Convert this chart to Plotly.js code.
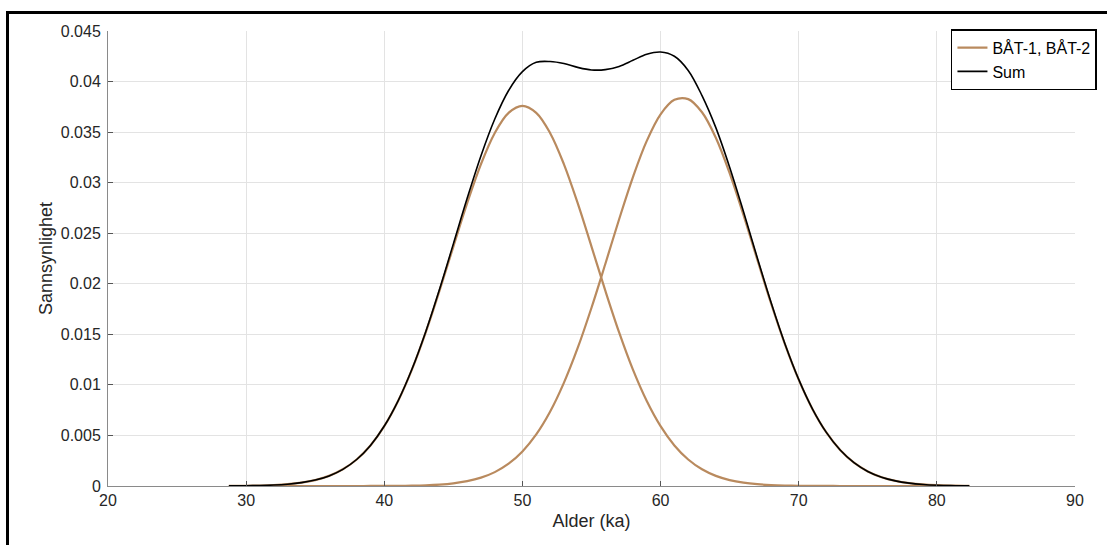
<!DOCTYPE html>
<html>
<head>
<meta charset="utf-8">
<script src="https://cdn.plot.ly/plotly-3.0.1.min.js"></script>
<style>
  html, body { margin: 0; padding: 0; background: #fff; overflow: hidden; }
  #chart { position: absolute; left: 0; top: 0; width: 1107px; height: 545px; }
  #frame { position: absolute; left: 6px; top: 11px; width: 1300px; height: 800px;
           border: 3px solid #000; pointer-events: none; }
</style>
</head>
<body>
<div id="chart"></div>
<div id="frame"></div>
<script>
// Age (ka)
const ages = [28.75, 29, 30, 31, 32, 33, 34, 35, 36, 37, 38, 39, 40, 41, 42, 43, 44, 45, 46, 47, 48, 49,
  50, 51, 52, 53, 54, 55, 56, 57, 58, 59, 60, 61, 62, 63, 64, 65, 66, 67, 68, 69, 70, 71, 72, 73, 74,
  75, 76, 77, 78, 79, 80, 81, 82, 82.35];

// BÅT-1 probability
const bat1 = [0.0000085, 0.0000108, 0.0000231, 0.0000474, 0.000094, 0.00018, 0.000331, 0.000587, 0.001,
  0.00165, 0.00262, 0.00401, 0.00592, 0.00841, 0.01151, 0.01519, 0.01932, 0.02368, 0.02797, 0.03184,
  0.03492, 0.03691, 0.0376, 0.03691, 0.03492, 0.03184, 0.02797, 0.02368, 0.01932, 0.01519, 0.01151,
  0.00841, 0.00592, 0.00401, 0.00262, 0.00165, 0.001, 0.000587, 0.000331, 0.00018, 0.000094, 0.0000474,
  0.0000231, 0.0000108, 0.000005, 0.000002, 0, 0, 0, 0, 0, 0, 0, 0, 0, 0];

// BÅT-2 probability
const bat2 = [0, 0, 0, 0, 0, 0, 0, 0, 0, 0, 0, 0.0000038, 0.0000085, 0.0000181, 0.0000374, 0.0000747,
  0.000144, 0.000267, 0.000478, 0.000825, 0.001374, 0.002205, 0.003415, 0.0051, 0.00734, 0.0102,
  0.01365, 0.01763, 0.02196, 0.02638, 0.03055, 0.03413, 0.03676, 0.03819, 0.03826, 0.03696, 0.03444,
  0.03094, 0.02681, 0.0224, 0.01805, 0.01403, 0.01052, 0.0076, 0.0053, 0.00356, 0.002307, 0.001442,
  0.000869, 0.000506, 0.000283, 0.000153, 0.00008, 0.00004, 0.0000195, 0.000015];

// Sum probability
const total = [0.0000085, 0.0000108, 0.0000231, 0.0000474, 0.000094, 0.00018, 0.000331, 0.000587, 0.001,
  0.00165, 0.00262, 0.004014, 0.005929, 0.008428, 0.011547, 0.015265, 0.019464, 0.023947, 0.028448,
  0.032665, 0.036294, 0.039115, 0.04098, 0.0419, 0.04198, 0.04178, 0.0414, 0.04115, 0.04118, 0.0415,
  0.0421, 0.0427, 0.04292, 0.0425, 0.0411, 0.03861, 0.03544, 0.031527, 0.027141, 0.02258, 0.018144,
  0.014077, 0.010543, 0.007611, 0.0053, 0.00356, 0.002307, 0.001442, 0.000869, 0.000506, 0.000283,
  0.000153, 0.00008, 0.00004, 0.0000195, 0.000015];

const xTicks = [20, 30, 40, 50, 60, 70, 80, 90];
const xTickText = ['20', '30', '40', '50', '60', '70', '80', '90'];
const yTicks = [0, 0.005, 0.01, 0.015, 0.02, 0.025, 0.03, 0.035, 0.04, 0.045];
const yTickText = ['0', '0.005', '0.01', '0.015', '0.02', '0.025', '0.03', '0.035', '0.04', '0.045'];

const seriesNames = ['BÅT-1, BÅT-2', 'Sum'];
const brown = '#B98A5E';
const fontFam = 'Liberation Sans, Arial, sans-serif';

const traces = [
  { x: ages, y: bat1, type: 'scatter', mode: 'lines', name: seriesNames[0], legendgroup: 'bat',
    line: { color: brown, width: 2.2, shape: 'spline', smoothing: 1 } },
  { x: ages, y: bat2, type: 'scatter', mode: 'lines', name: seriesNames[0], legendgroup: 'bat',
    showlegend: false, line: { color: brown, width: 2.2, shape: 'spline', smoothing: 1 } },
  { x: ages, y: total, type: 'scatter', mode: 'lines', name: seriesNames[1],
    line: { color: '#000000', width: 1.6, shape: 'spline', smoothing: 1 } }
];

const layout = {
  width: 1107, height: 545,
  margin: { l: 108, r: 32, t: 31, b: 59, autoexpand: false },
  paper_bgcolor: '#ffffff', plot_bgcolor: '#ffffff',
  font: { family: fontFam, size: 16, color: '#262626' },
  showlegend: true,
  legend: {
    x: 1.0227, y: 1.004, xanchor: 'right', yanchor: 'top',
    bgcolor: '#ffffff', bordercolor: '#000000', borderwidth: 1.5,
    font: { family: fontFam, size: 16, color: '#000000' },
    tracegroupgap: 0, itemwidth: 30
  },
  xaxis: {
    range: [20, 90], tickvals: xTicks, ticktext: xTickText,
    ticks: 'inside', ticklen: 5, tickcolor: '#555555', tickwidth: 1,
    showline: true, linecolor: '#8a8a8a', linewidth: 1, mirror: false,
    showgrid: true, gridcolor: '#e3e3e3', gridwidth: 1, zeroline: false,
    tickfont: { family: fontFam, size: 16, color: '#262626' },
    title: { text: 'Alder (ka)', font: { family: fontFam, size: 18, color: '#262626' }, standoff: 6 }
  },
  yaxis: {
    range: [0, 0.045], tickvals: yTicks, ticktext: yTickText,
    ticks: 'inside', ticklen: 5, tickcolor: '#555555', tickwidth: 1,
    showline: true, linecolor: '#8a8a8a', linewidth: 1, mirror: false,
    showgrid: true, gridcolor: '#e3e3e3', gridwidth: 1, zeroline: false,
    ticklabelstandoff: 3,
    tickfont: { family: fontFam, size: 16, color: '#262626' },
    title: { text: 'Sannsynlighet', font: { family: fontFam, size: 18, color: '#262626' }, standoff: 3 }
  }
};

Plotly.newPlot('chart', traces, layout, { staticPlot: true, displayModeBar: false });
</script>
</body>
</html>
